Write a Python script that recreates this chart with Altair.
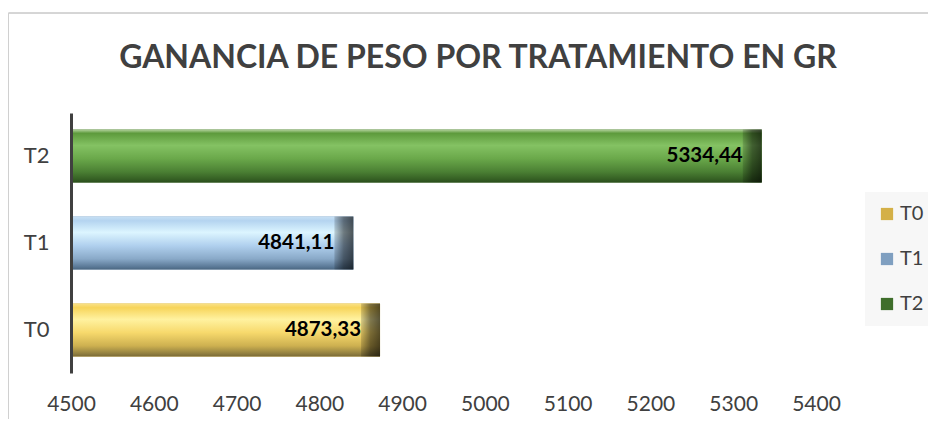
import altair as alt
import pandas as pd

categorias = ["T0", "T1", "T2"]
valores = [4873.33, 4841.11, 5334.44]
ticks_x = [4500, 4600, 4700, 4800, 4900, 5000, 5100, 5200, 5300, 5400]
titulo = "GANANCIA DE PESO POR TRATAMIENTO EN GR"

df = pd.DataFrame({"Tratamiento": categorias, "Valor": valores})
df["Etiqueta"] = [f"{v:.2f}".replace(".", ",") for v in valores]
df_titulo = pd.DataFrame({"t": [titulo]})

orden_y = ["T2", "T1", "T0"]
solidos = ["#d4b047", "#7f9fc0", "#3f6e2b"]

grad = {
    "T0": [("#f9e28a", 0), ("#f7d45a", 0.08), ("#fff2a0", 0.3), ("#f7d96c", 0.55),
           ("#cdb050", 0.8), ("#8f7d3f", 0.95), ("#7a6a35", 1)],
    "T1": [("#c8e0f4", 0), ("#b4d4f0", 0.08), ("#dcf5ff", 0.3), ("#b0d0ee", 0.55),
           ("#89a9c8", 0.8), ("#5a7896", 0.95), ("#4a6680", 1)],
    "T2": [("#b5d39e", 0), ("#5d9a3c", 0.07), ("#84c263", 0.3), ("#6aa84a", 0.55),
           ("#4a7f33", 0.8), ("#335c22", 0.95), ("#2b4d1c", 1)],
}

W, H = 745, 260
x_scale = alt.Scale(domain=[4500, 5400], nice=False, zero=False)
y_scale = alt.Scale(domain=orden_y, paddingInner=0.39, paddingOuter=0.19)

base = alt.Chart(df)

legend_bars = base.mark_bar(clip=True).encode(
    x=alt.X("Valor:Q", scale=x_scale,
            axis=alt.Axis(values=ticks_x, format="d", title=None, grid=False,
                          domain=False, ticks=False, labelPadding=20, labelFlush=False,
                          labelFontSize=21, labelColor="#404040", labelFont="Lato")),
    y=alt.Y("Tratamiento:N", scale=y_scale, sort=orden_y,
            axis=alt.Axis(title=None, ticks=False, domain=True, domainColor="#404040",
                          domainWidth=3, labelPadding=22, labelFontSize=22,
                          labelColor="#404040", labelFont="Lato", zindex=1)),
    color=alt.Color("Tratamiento:N",
                    scale=alt.Scale(domain=categorias, range=solidos),
                    legend=alt.Legend(title=None, orient="none", legendX=794, legendY=79,
                                      symbolType="square", symbolSize=150,
                                      labelFontSize=20, labelColor="#404040",
                                      labelFont="Lato", rowPadding=25, padding=12,
                                      fillColor="#f7f7f7", symbolStrokeWidth=0,
                                      labelOffset=3)),
)

layers = [legend_bars]
for c in categorias:
    g = alt.Gradient(gradient="linear", x1=0, x2=0, y1=0, y2=1,
                     stops=[alt.GradientStop(color=col, offset=o) for col, o in grad[c]])
    layers.append(
        base.transform_filter(alt.datum.Tratamiento == c).mark_bar(color=g, clip=True).encode(
            x=alt.X("Valor:Q", scale=x_scale),
            y=alt.Y("Tratamiento:N", scale=y_scale, sort=orden_y),
        )
    )

cap = alt.Gradient(gradient="linear", x1=0, x2=1, y1=0, y2=0,
                   stops=[alt.GradientStop(color="rgba(0,0,0,0.15)", offset=0),
                          alt.GradientStop(color="rgba(0,0,0,0.5)", offset=0.5),
                          alt.GradientStop(color="rgba(0,0,0,0.65)", offset=1)])
layers.append(
    base.mark_bar(color=cap, xOffset=-19).encode(
        x=alt.X("Valor:Q", scale=x_scale),
        x2="Valor:Q",
        y=alt.Y("Tratamiento:N", scale=y_scale, sort=orden_y),
    )
)

etiquetas = base.mark_text(align="right", baseline="middle", dx=-19, fontSize=20.5,
                           fontWeight="bold", font="Lato", color="#000000").encode(
    x=alt.X("Valor:Q", scale=x_scale),
    y=alt.Y("Tratamiento:N", scale=y_scale, sort=orden_y),
    text="Etiqueta:N",
)
layers.append(etiquetas)

titulo_mark = alt.Chart(df_titulo).mark_text(
    fontSize=32, font="Lato", fontWeight="bold", color="#404040",
    align="center", baseline="middle").encode(
    text="t:N", x=alt.value(407), y=alt.value(-55))
layers.append(titulo_mark)

borde_izq = alt.Chart(df).mark_rule(color="#d0d0d0", strokeWidth=1).encode(
    x=alt.value(-62.5), y=alt.value(-100), y2=alt.value(320))
borde_sup = alt.Chart(df).mark_rule(color="#d0d0d0", strokeWidth=1).encode(
    x=alt.value(-62.5), x2=alt.value(870), y=alt.value(-100))
layers = [borde_izq, borde_sup] + layers

chart = alt.layer(*layers).properties(
    width=W, height=H,
    autosize=alt.AutoSizeParams(type="none"),
    padding={"left": 63, "top": 105, "right": 112, "bottom": 46},
).configure_view(stroke=None)

chart.save("out.html", embed_options={"renderer": "svg", "actions": False})
